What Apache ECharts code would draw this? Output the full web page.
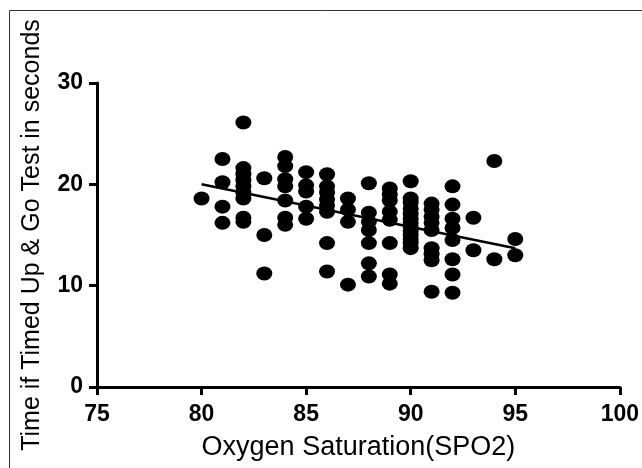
<!DOCTYPE html>
<html>
<head>
<meta charset="utf-8">
<script src="https://cdn.jsdelivr.net/npm/echarts@6/dist/echarts.min.js"></script>
<style>
html,body{margin:0;padding:0;background:#fff;}
#c{width:642px;height:468px;}
</style>
</head>
<body>
<div id="c"></div>
<script>
// Oxygen saturation (x) values of each point
const spo2 = [
  80,
  81,81,81,81,
  82,82,82,82,82,82,82,82,82,
  83,83,83,
  84,84,84,84,84,84,84,
  85,85,85,85,85,
  86,86,86,86,86,86,86,86,
  87,87,87,87,
  88,88,88,88,88,88,88,
  89,89,89,89,89,89,89,89,
  90,90,90,90,90,90,90,90,90,90,90,90,90,
  91,91,91,91,91,91,91,91,91,
  92,92,92,92,92,92,92,92,
  93,93,
  94,94,
  95,95
];
// Timed Up & Go time (s) of each point
const tugTime = [
  18.6,
  22.5,20.2,17.8,16.2,
  26.1,21.6,21.0,20.4,19.8,19.2,18.6,16.7,16.3,
  20.6,15.0,11.2,
  22.7,21.8,20.5,19.8,18.4,16.7,16.0,
  21.2,19.9,19.3,17.8,16.6,
  21.0,19.8,19.2,18.5,17.9,17.3,14.2,11.4,
  18.6,17.5,16.3,10.1,
  20.1,17.2,16.3,15.5,14.2,12.2,10.9,
  19.6,19.0,18.4,17.3,16.5,14.2,11.1,10.2,
  20.3,18.6,18.2,17.6,17.1,16.6,16.2,15.8,15.4,15.0,14.6,14.2,13.7,
  18.1,17.5,16.8,16.2,15.5,13.7,13.1,12.5,9.4,
  19.8,18.0,16.6,15.7,14.5,12.6,11.1,9.3,
  16.7,13.5,
  22.3,12.6,
  14.6,13.0
];
// Fitted regression line end points
const fitX = [80, 95];
const fitY = [20.0, 13.7];

const xTicks = [75, 80, 85, 90, 95, 100];
const yTicks = [0, 10, 20, 30];

const points = spo2.map((x, i) => [x, tugTime[i]]);
const fitLine = fitX.map((x, i) => [x, fitY[i]]);

const chart = echarts.init(document.getElementById('c'), null, {renderer: 'canvas'});
const font = 'Liberation Sans, Arial, Helvetica, sans-serif';
chart.setOption({
  animation: false,
  backgroundColor: '#fff',
  graphic: [{
    type: 'rect',
    shape: {x: 9.5, y: 10.5, width: 660, height: 500},
    style: {fill: 'none', stroke: '#333', lineWidth: 1},
    silent: true
  }],
  grid: {left: 97, right: 17, top: 83, bottom: 81, containLabel: false},
  xAxis: {
    type: 'value',
    min: xTicks[0], max: xTicks[xTicks.length - 1], interval: 5,
    name: 'Oxygen Saturation(SPO2)',
    nameLocation: 'middle', nameGap: 47,
    nameTextStyle: {fontFamily: font, fontSize: 27, color: '#000'},
    axisLine: {lineStyle: {color: '#000', width: 3}},
    axisTick: {show: true, length: 8, inside: false, lineStyle: {color: '#000', width: 3}},
    axisLabel: {fontFamily: font, fontSize: 23, fontWeight: 'bold', color: '#000', margin: 16, showMaxLabel: true, showMinLabel: true},
    splitLine: {show: false}
  },
  yAxis: {
    type: 'value',
    min: yTicks[0], max: yTicks[yTicks.length - 1], interval: 10,
    name: 'Time if Timed Up & Go Test in seconds',
    nameLocation: 'middle', nameGap: 52,
    nameTextStyle: {fontFamily: font, fontSize: 25, color: '#000'},
    axisLine: {show: true, lineStyle: {color: '#000', width: 3}},
    axisTick: {show: true, length: 8, inside: false, lineStyle: {color: '#000', width: 3}},
    axisLabel: {fontFamily: font, fontSize: 23, fontWeight: 'bold', color: '#000', margin: 14},
    splitLine: {show: false}
  },
  series: [
    {
      type: 'scatter',
      data: points,
      symbol: 'circle',
      symbolSize: [16, 14],
      itemStyle: {color: '#000', opacity: 1},
      z: 3
    },
    {
      type: 'line',
      data: fitLine,
      symbol: 'none',
      lineStyle: {color: '#000', width: 2.5},
      z: 4
    }
  ]
});
</script>
</body>
</html>
